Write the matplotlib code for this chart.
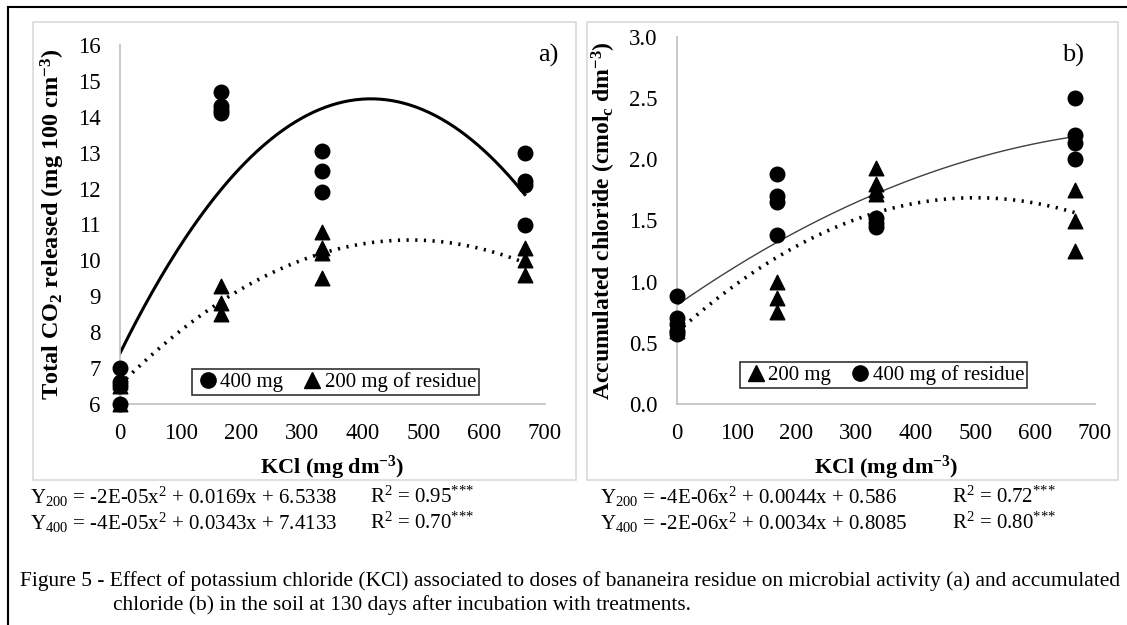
import matplotlib
matplotlib.use("Agg")
import matplotlib.pyplot as plt
import numpy as np
from matplotlib.patches import Rectangle
from matplotlib.lines import Line2D

plt.rcParams["font.family"] = ["Liberation Serif", "DejaVu Serif"]
plt.rcParams["mathtext.fontset"] = "custom"
plt.rcParams["mathtext.rm"] = "Liberation Serif"
plt.rcParams["mathtext.it"] = "Liberation Serif:italic"
plt.rcParams["mathtext.bf"] = "Liberation Serif:bold"
plt.rcParams["axes.unicode_minus"] = False

# KCl doses (mg dm-3)
doses = [0, 166.7, 333.3, 666.7]

# panel a: total CO2 released, replicate values per dose
co2_400 = [[7.0, 6.6, 6.5, 6.0], [14.7, 14.3, 14.2, 14.1], [13.05, 12.5, 11.9], [13.0, 12.2, 12.1, 11.0]]
co2_200 = [[6.6, 6.5, 6.0], [9.3, 8.8, 8.5], [10.8, 10.35, 10.2, 9.5], [10.35, 10.0, 9.6]]
# fitted quadratics (a, b, c) used for the trend lines
co2_fit_400 = [-4.15e-05, 0.0343, 7.4133]
co2_fit_200 = [-1.77e-05, 0.0169, 6.5338]

# panel b: accumulated chloride
cl_200 = [[0.65, 0.6], [1.0, 0.87, 0.75], [1.93, 1.8, 1.75, 1.72], [1.75, 1.5, 1.25]]
cl_400 = [[0.88, 0.7, 0.65, 0.6, 0.57], [1.88, 1.7, 1.65, 1.38], [1.52, 1.48, 1.45], [2.5, 2.2, 2.13, 2.0]]
cl_fit_400 = [-2.0e-06, 0.0034, 0.8085]
cl_fit_200 = [-4.4e-06, 0.0044, 0.586]

stars = r"$^{{*}{*}{*}}$"
eq_a = [r"Y$_{200}$ = -2E-05x$^2$ + 0.0169x + 6.5338", r"Y$_{400}$ = -4E-05x$^2$ + 0.0343x + 7.4133"]
r2_a = [r"R$^2$ = 0.95" + stars, r"R$^2$ = 0.70" + stars]
eq_b = [r"Y$_{200}$ = -4E-06x$^2$ + 0.0044x + 0.586", r"Y$_{400}$ = -2E-06x$^2$ + 0.0034x + 0.8085"]
r2_b = [r"R$^2$ = 0.72" + stars, r"R$^2$ = 0.80" + stars]
caption = ["Figure 5 - Effect of potassium chloride (KCl) associated to doses of bananeira residue on microbial activity (a) and accumulated",
           "chloride (b) in the soil at 130 days after incubation with treatments."]

W, H = 1127, 625
fig = plt.figure(figsize=(W / 100, H / 100), dpi=100)


def px(x0, y0, x1, y1):
    # pixel box (top-left origin) -> figure fraction rect
    return [x0 / W, 1 - y1 / H, (x1 - x0) / W, (y1 - y0) / H]


# outer frame (left and top edges) and the two grey panel boxes
fig.add_artist(Line2D([8 / W, 8 / W], [0, 1 - 7 / H], color="black", lw=1.5))
fig.add_artist(Line2D([8 / W, 1], [1 - 7 / H, 1 - 7 / H], color="black", lw=1.5))
for x0, x1 in [(33, 576), (587, 1118)]:
    r = px(x0, 22, x1, 480)
    fig.add_artist(Rectangle((r[0], r[1]), r[2], r[3], fill=False, ec="#d9d9d9", lw=1.2))


def scatter_groups(ax, groups, marker, size):
    for xv, vals in zip(doses, groups):
        ax.scatter([xv] * len(vals), vals, marker=marker, s=size, color="black", zorder=3, clip_on=False)


def style(ax, ylim, yticks, fmt):
    ax.set_xlim(0, 700)
    ax.set_ylim(*ylim)
    ax.set_xticks(range(0, 701, 100))
    ax.set_yticks(yticks)
    ax.set_yticklabels([fmt.format(v) for v in yticks])
    for s in ["top", "right"]:
        ax.spines[s].set_visible(False)
    for s in ["left", "bottom"]:
        ax.spines[s].set_color("#bfbfbf")
        ax.spines[s].set_linewidth(1.2)
    ax.tick_params(length=0, labelsize=16.5, pad=14)
    ax.tick_params(axis="y", pad=14)
    ax.set_xlabel("KCl (mg dm$^{\\mathbf{-3}}$)", fontsize=16, fontweight="bold", labelpad=7)


def legend(ax, handles, anchor):
    lg = ax.legend(handles=handles, loc="lower left", bbox_to_anchor=anchor, ncol=2, fontsize=15,
                   frameon=True, fancybox=False, handletextpad=0.0, columnspacing=0.8,
                   borderpad=0.15, borderaxespad=0, handlelength=1.2)
    lg.get_frame().set_edgecolor("black")
    lg.get_frame().set_linewidth(1.2)


xs = np.linspace(0, doses[-1], 200)

# panel a
ax1 = fig.add_axes(px(120, 45, 545, 404))
ax1.plot(xs, np.polyval(co2_fit_400, xs), color="black", lw=2.2, zorder=2)
ax1.plot(xs, np.polyval(co2_fit_200, xs), color="black", lw=2.6, ls=(0, (0.6, 1.8)), zorder=2)
scatter_groups(ax1, co2_400, "o", 110)
scatter_groups(ax1, co2_200, "^", 110)
style(ax1, (6, 16), list(range(6, 17)), "{:d}")
ax1.set_ylabel("Total CO$_{\\mathbf{2}}$ released (mg 100 cm$^{\\mathbf{-3}}$)", fontsize=17.5, fontweight="bold", labelpad=8)
fig.text(548 / W, 1 - 55 / H, "a)", fontsize=19, ha="center", va="center")
legend(ax1, [Line2D([], [], marker="o", ls="none", color="black", ms=11, label="400 mg"),
             Line2D([], [], marker="^", ls="none", color="black", ms=11, label="200 mg of residue")],
       ((192 - 120) / 425, (404 - 395) / 359))

# panel b
ax2 = fig.add_axes(px(677, 37, 1095, 404))
ax2.plot(xs, np.polyval(cl_fit_400, xs), color="#404040", lw=1.0, zorder=2)
ax2.plot(xs, np.polyval(cl_fit_200, xs), color="black", lw=2.6, ls=(0, (0.6, 1.8)), zorder=2)
scatter_groups(ax2, cl_200, "^", 110)
scatter_groups(ax2, cl_400, "o", 110)
style(ax2, (0, 3.0), [0, 0.5, 1.0, 1.5, 2.0, 2.5, 3.0], "{:.1f}")
ax2.set_ylabel("Accumulated chloride (cmol$_{\\mathbf{c}}$ dm$^{\\mathbf{-3}}$)", fontsize=17, fontweight="bold", labelpad=8)
fig.text(1073 / W, 1 - 55 / H, "b)", fontsize=19, ha="center", va="center")
legend(ax2, [Line2D([], [], marker="^", ls="none", color="black", ms=11, label="200 mg"),
             Line2D([], [], marker="o", ls="none", color="black", ms=11, label="400 mg of residue")],
       ((740 - 677) / 418, (404 - 388) / 367))

# equations below the panels
for i, yy in enumerate([497, 523]):
    fig.text(30 / W, 1 - yy / H, eq_a[i], fontsize=15, va="center", ha="left")
    fig.text(370 / W, 1 - yy / H, r2_a[i], fontsize=15, va="center", ha="left")
    fig.text(600 / W, 1 - yy / H, eq_b[i], fontsize=15, va="center", ha="left")
    fig.text(952 / W, 1 - yy / H, r2_b[i], fontsize=15, va="center", ha="left")

fig.text(20 / W, 1 - 581 / H, caption[0], fontsize=15.4, va="center", ha="left")
fig.text(113 / W, 1 - 605 / H, caption[1], fontsize=15.4, va="center", ha="left")

fig.savefig("out.png", dpi=100)
